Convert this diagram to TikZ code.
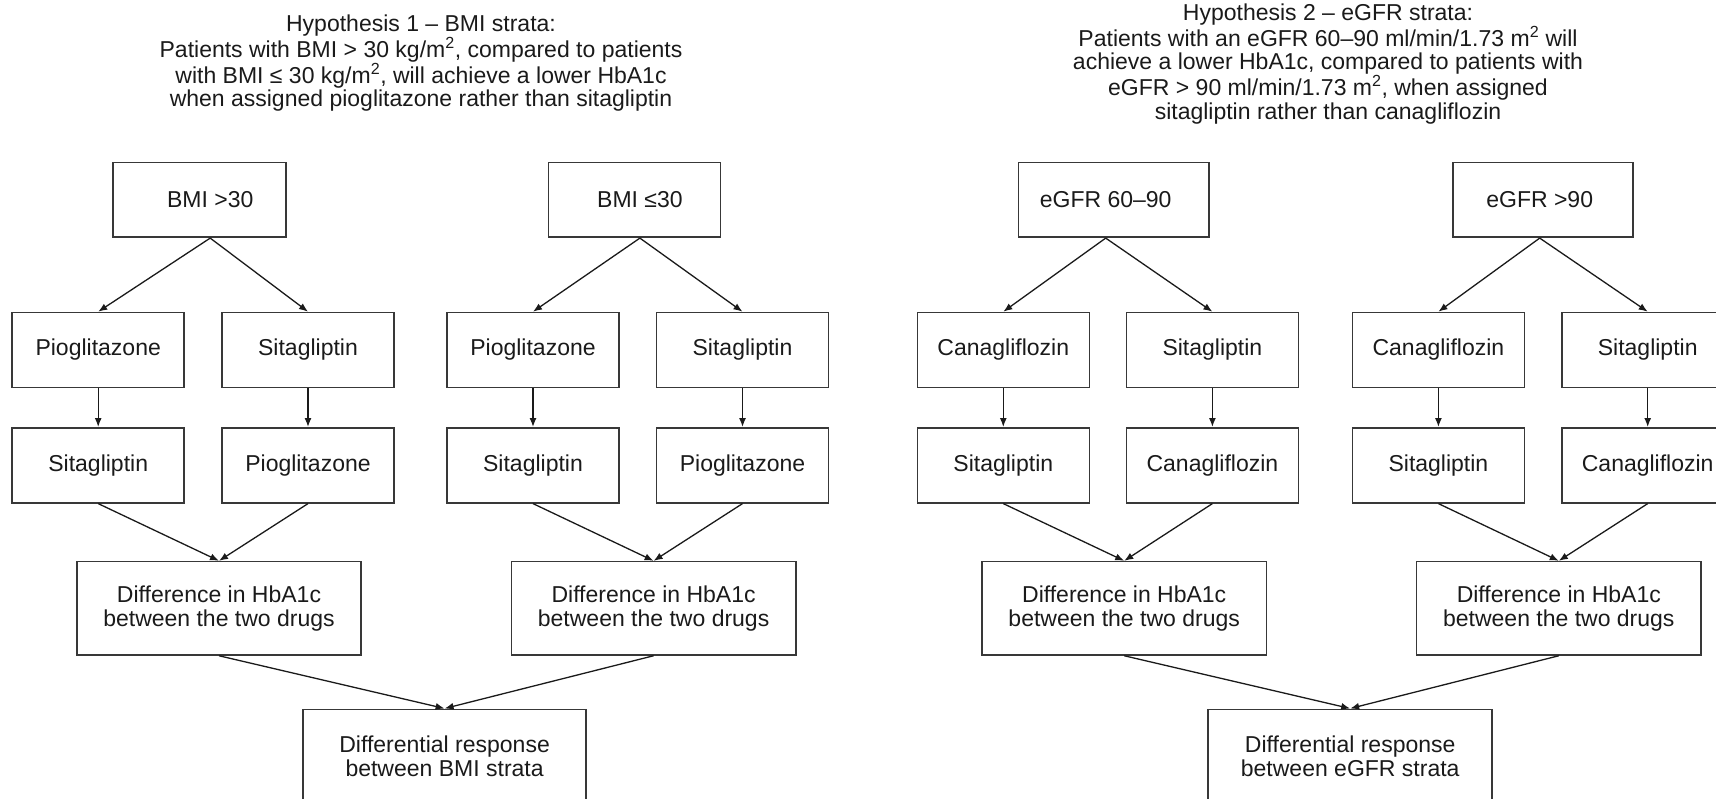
\documentclass[tikz,border=0pt]{standalone}
\usepackage{fontspec}
\setmainfont{Liberation Sans}
\usetikzlibrary{arrows.meta}
\definecolor{ink}{HTML}{1A1A1A}
\definecolor{edge}{HTML}{383838}
\begin{document}
\begin{tikzpicture}[x=1pt,y=-1pt,
  box/.style={draw=edge, line width=1.6pt, inner sep=0pt, align=center, text=ink,
    font=\fontsize{23}{24}\selectfont},
  drug/.style={box, minimum width=172pt, minimum height=75pt},
  diff/.style={box, minimum width=284.5pt, minimum height=93.3pt},
  arr/.style={draw=ink, line width=1.3pt, -{Latex[length=9pt,width=7pt]}},
  title/.style={align=center, text=ink, inner sep=0pt, font=\fontsize{23}{23.6}\selectfont}]
\useasboundingbox (0,0) rectangle (1716,799);
\clip (0,0) rectangle (1716,799);

% titles
\node[title] (t1) at (421,63) {Hypothesis 1 – BMI strata:\\Patients with BMI > 30 kg/m\textsuperscript{2}, compared to patients\\with BMI ≤ 30 kg/m\textsuperscript{2}, will achieve a lower HbA1c\\when assigned pioglitazone rather than sitagliptin};
\node[title] (t2) at (1328,64) {Hypothesis 2 – eGFR strata:\\Patients with an eGFR 60–90 ml/min/1.73 m\textsuperscript{2} will\\achieve a lower HbA1c, compared to patients with\\eGFR > 90 ml/min/1.73 m\textsuperscript{2}, when assigned\\sitagliptin rather than canagliflozin};

% ---------- left block ----------
\node[box, minimum width=173pt, minimum height=74.6pt] (b1) at (199.2,200) {\hspace*{22pt}BMI >30};
\node[box, minimum width=172pt, minimum height=74.6pt] (b2) at (634.4,200) {\hspace*{11pt}BMI ≤30};

\node[drug] (p1) at (98.2,350) {Pioglitazone};
\node[drug] (s1) at (308,350) {Sitagliptin};
\node[drug] (p2) at (533,350) {Pioglitazone};
\node[drug] (s2) at (742.5,350) {Sitagliptin};

\node[drug] (s1b) at (98.2,465.3) {Sitagliptin};
\node[drug] (p1b) at (308,465.3) {Pioglitazone};
\node[drug] (s2b) at (533,465.3) {Sitagliptin};
\node[drug] (p2b) at (742.5,465.3) {Pioglitazone};

\node[diff] (d1) at (219,608.3) {Difference in HbA1c\\between the two drugs};
\node[diff] (d2) at (653.6,608.3) {Difference in HbA1c\\between the two drugs};

\node[box, minimum width=283pt, minimum height=93pt] (f1) at (444.6,755.8) {Differential response\\between BMI strata};

% ---------- right block ----------
\node[box, minimum width=190.7pt, minimum height=74.6pt] (e1) at (1113.7,200) {eGFR 60–90\hspace*{16pt}};
\node[box, minimum width=180pt, minimum height=74.6pt] (e2) at (1542.7,200) {eGFR >90\hspace*{6pt}};

\node[drug] (c1) at (1003.3,350) {Canagliflozin};
\node[drug] (s3) at (1212.4,350) {Sitagliptin};
\node[drug] (c2) at (1438.4,350) {Canagliflozin};
\node[drug] (s4) at (1647.7,350) {Sitagliptin};

\node[drug] (s3b) at (1003.3,465.3) {Sitagliptin};
\node[drug] (c1b) at (1212.4,465.3) {Canagliflozin};
\node[drug] (s4b) at (1438.4,465.3) {Sitagliptin};
\node[drug] (c2b) at (1647.7,465.3) {Canagliflozin};

\node[diff] (d3) at (1124.2,608.3) {Difference in HbA1c\\between the two drugs};
\node[diff] (d4) at (1558.8,608.3) {Difference in HbA1c\\between the two drugs};

\node[box, minimum width=284pt, minimum height=93pt] (f2) at (1350.2,755.8) {Differential response\\between eGFR strata};

% ---------- connectors ----------
\draw[arr] ([xshift=11pt]b1.south) -- (p1.north);
\draw[arr] ([xshift=11pt]b1.south) -- (s1.north);
\draw[arr] ([xshift=5.5pt]b2.south) -- (p2.north);
\draw[arr] ([xshift=5.5pt]b2.south) -- (s2.north);
\draw[arr] ([xshift=-8pt]e1.south) -- (c1.north);
\draw[arr] ([xshift=-8pt]e1.south) -- (s3.north);
\draw[arr] ([xshift=-3pt]e2.south) -- (c2.north);
\draw[arr] ([xshift=-3pt]e2.south) -- (s4.north);

\foreach \a/\b in {p1/s1b, s1/p1b, p2/s2b, s2/p2b, c1/s3b, s3/c1b, c2/s4b, s4/c2b}
  \draw[arr] (\a.south) -- (\b.north);

\foreach \a/\b in {s1b/d1, p1b/d1, s2b/d2, p2b/d2, s3b/d3, c1b/d3, s4b/d4, c2b/d4, d1/f1, d2/f1, d3/f2, d4/f2}
  \draw[arr] (\a.south) -- (\b.north);
\end{tikzpicture}
\end{document}
